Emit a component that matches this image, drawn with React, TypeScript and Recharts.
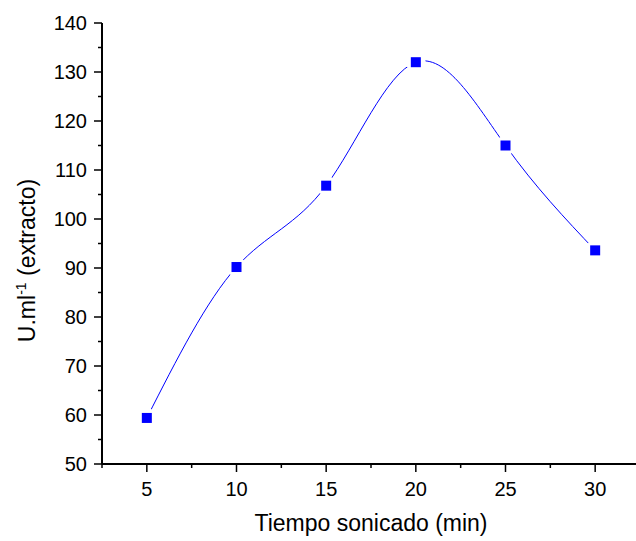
import { Label, Line, LineChart, XAxis, YAxis } from "recharts";

const times = [5, 10, 15, 20, 25, 30];
const activity = [59.4, 90.2, 106.8, 132.0, 115.0, 93.6];

const xMajor = [5, 10, 15, 20, 25, 30];
const xTicks = [2.5, 5, 7.5, 10, 12.5, 15, 17.5, 20, 22.5, 25, 27.5, 30, 32.5];
const yMajor = [50, 60, 70, 80, 90, 100, 110, 120, 130, 140];
const yTicks = [50, 55, 60, 65, 70, 75, 80, 85, 90, 95, 100, 105, 110, 115, 120, 125, 130, 135, 140];

const data = times.map((t, i) => ({ t, v: activity[i] }));

const FONT = "'Liberation Sans', Arial, sans-serif";
const BLUE = "#0000ff";

function XTick(props: any) {
  const { x, y, payload } = props;
  const major = xMajor.includes(payload.value);
  return (
    <g>
      <line x1={x} x2={x} y1={y} y2={y + (major ? 8 : 4)} stroke="#000" strokeWidth={1.5} />
      {major && (
        <text x={x} y={y + 32} textAnchor="middle" fontSize={20} fontFamily={FONT} fill="#000">
          {payload.value}
        </text>
      )}
    </g>
  );
}

function YTick(props: any) {
  const { x, y, payload } = props;
  const major = yMajor.includes(payload.value);
  return (
    <g>
      <line x1={x} x2={x - (major ? 8 : 4)} y1={y} y2={y} stroke="#000" strokeWidth={1.5} />
      {major && (
        <text x={x - 15} y={y} dy="0.36em" textAnchor="end" fontSize={20} fontFamily={FONT} fill="#000">
          {payload.value}
        </text>
      )}
    </g>
  );
}

function Marker(props: any) {
  const { cx, cy, index } = props;
  return (
    <g key={index}>
      <circle cx={cx} cy={cy} r={10} fill="#fff" />
      <rect x={cx - 5} y={cy - 5} width={10} height={10} fill={BLUE} />
    </g>
  );
}

function XTitle(props: any) {
  const { viewBox } = props;
  return (
    <text
      x={viewBox.x + viewBox.width / 2}
      y={viewBox.y + 67}
      textAnchor="middle"
      fontSize={23}
      fontFamily={FONT}
      fill="#000"
    >
      Tiempo sonicado (min)
    </text>
  );
}

function YTitle(props: any) {
  const { viewBox } = props;
  const cx = viewBox.x + 35;
  const cy = viewBox.y + viewBox.height / 2 + 17;
  return (
    <text
      x={cx}
      y={cy}
      transform={`rotate(-90 ${cx} ${cy})`}
      textAnchor="middle"
      fontSize={23}
      fontFamily={FONT}
      fill="#000"
    >
      U.ml
      <tspan fontSize={14} dy={-9}>-1</tspan>
      <tspan dy={9}> (extracto)</tspan>
    </text>
  );
}

export default function App() {
  return (
    <div style={{ position: "fixed", left: 0, top: 0, width: 636, height: 541, overflow: "hidden", background: "#fff" }}>
      <LineChart width={640} height={541} data={data} margin={{ top: 23, right: 0, bottom: 0, left: 0 }}>
        <XAxis
          dataKey="t"
          type="number"
          domain={[2.5, 32.5]}
          ticks={xTicks}
          interval={0}
          height={77}
          tickSize={0}
          tickMargin={0}
          tickLine={false}
          tick={<XTick />}
          axisLine={{ stroke: "#000", strokeWidth: 2 }}
        >
          <Label content={<XTitle />} />
        </XAxis>
        <YAxis
          type="number"
          domain={[50, 140]}
          ticks={yTicks}
          interval={0}
          width={102}
          tickSize={0}
          tickMargin={0}
          tickLine={false}
          tick={<YTick />}
          axisLine={{ stroke: "#000", strokeWidth: 2 }}
        >
          <Label content={<YTitle />} />
        </YAxis>
        <Line
          dataKey="v"
          type="natural"
          stroke={BLUE}
          strokeWidth={1}
          dot={Marker}
          activeDot={false}
          isAnimationActive={false}
        />
      </LineChart>
    </div>
  );
}
